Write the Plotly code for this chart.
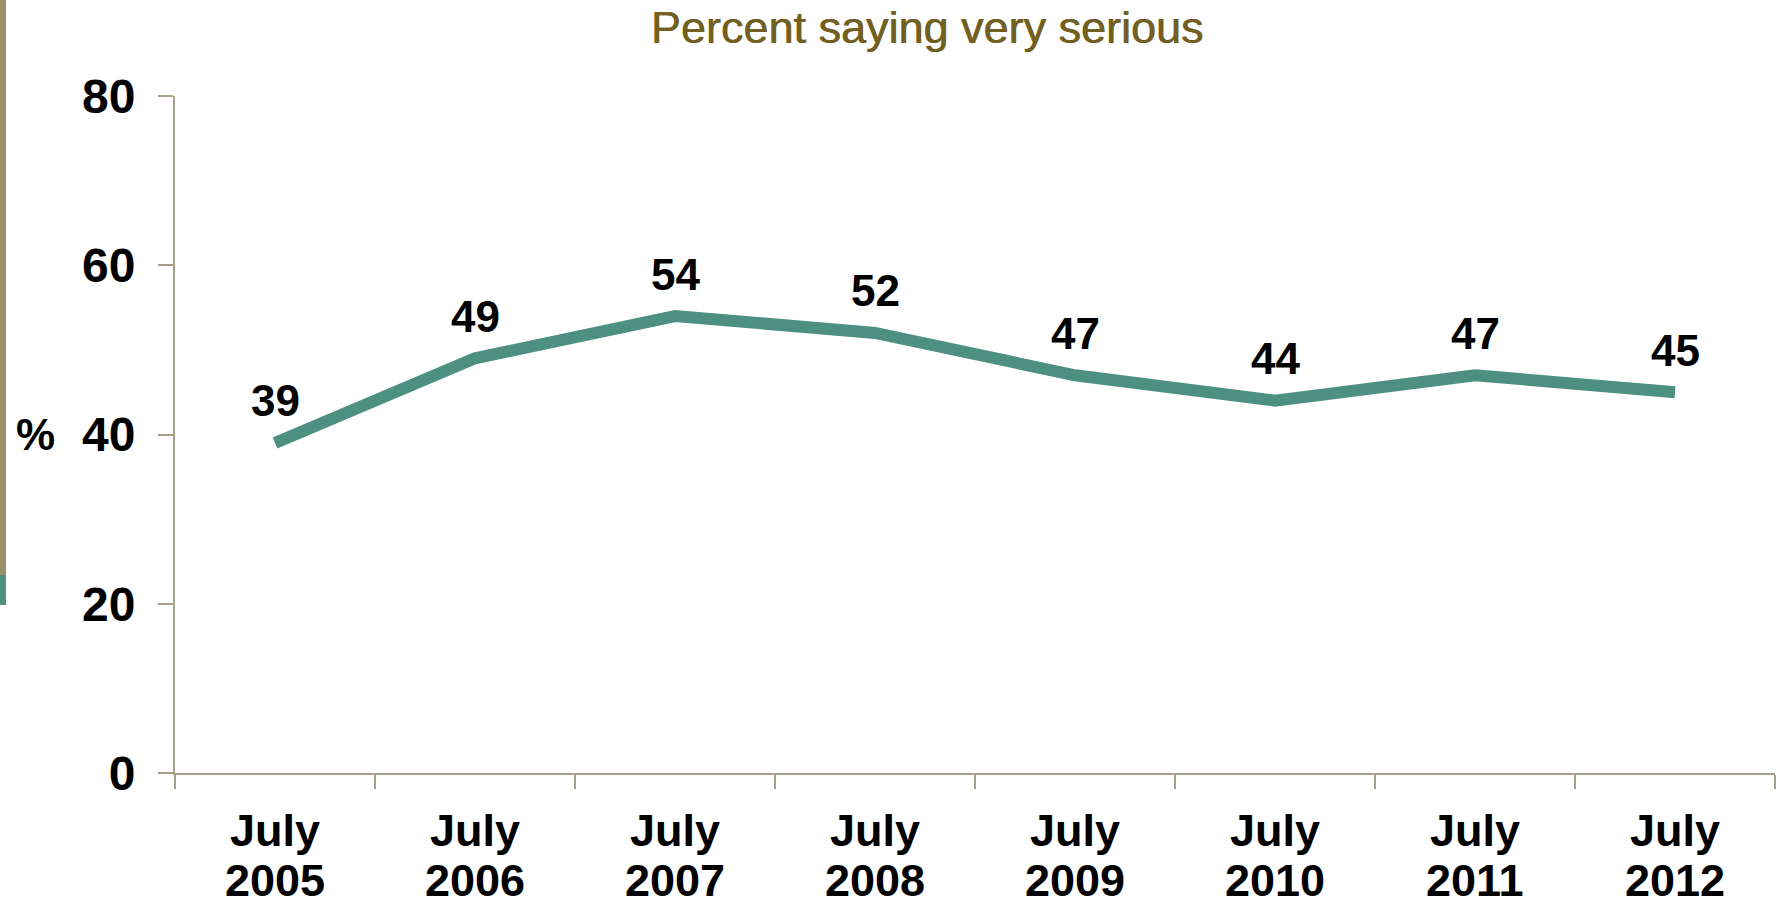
import plotly.graph_objects as go

months = ["July"] * 8
years = ["2005", "2006", "2007", "2008", "2009", "2010", "2011", "2012"]
values = [39, 49, 54, 52, 47, 44, 47, 45]
y_ticks = [0, 20, 40, 60, 80]

LINE = "#4E9080"
AXIS = "#A79F8C"
TITLE = "#725F22"
FONT = "Liberation Sans, Arial, sans-serif"

W, H = 1784, 904
L, R, T, B = 175, 9, 96, 131

fig = go.Figure()
fig.add_trace(go.Scatter(
    x=years, y=values, mode="lines",
    line=dict(color=LINE, width=12),
    hoverinfo="skip", showlegend=False,
))

# category index positions on the category axis
for i, v in enumerate(values):
    fig.add_annotation(x=i, y=v, text=str(v), showarrow=False,
                       yanchor="middle", yshift=42,
                       font=dict(family=FONT, size=44, color="black", weight="bold"))

# second line of each category label (year)
for i, c in enumerate(years):
    fig.add_annotation(x=i, xref="x", y=0, yref="paper", text=c, showarrow=False,
                       yanchor="middle", yshift=-107,
                       font=dict(family=FONT, size=45, color="black", weight="bold"))

fig.add_annotation(xref="paper", x=0, xanchor="right", xshift=-118,
                   yref="y", y=40, text="%", showarrow=False,
                   font=dict(family=FONT, size=44, color="black", weight="bold"))

ph = H - T - B
def py(p):
    return (H - B - p) / ph

fig.add_shape(type="rect", xref="paper", yref="paper",
              x0=-L / (W - L - R), x1=(6 - L) / (W - L - R),
              y0=py(575), y1=py(0), fillcolor="#9B8F66", line=dict(width=0), layer="above")
fig.add_shape(type="rect", xref="paper", yref="paper",
              x0=-L / (W - L - R), x1=(6 - L) / (W - L - R),
              y0=py(605), y1=py(575), fillcolor=LINE, line=dict(width=0), layer="above")

fig.update_layout(
    width=W, height=H,
    margin=dict(l=L, r=R, t=T, b=B, autoexpand=False),
    paper_bgcolor="white", plot_bgcolor="white",
    title=dict(text="Percent saying very serious", x=927 / W, xanchor="center",
               y=1 - 27 / H, yanchor="middle",
               font=dict(family=FONT, size=45, color=TITLE,
                         shadow="0.7px 0 0 #725F22")),
    xaxis=dict(type="category", range=[-0.5, 7.5], tickson="boundaries",
               tickvals=years, ticktext=months,
               ticks="outside", ticklen=14, tickwidth=2, tickcolor=AXIS,
               showline=True, linecolor=AXIS, linewidth=2, showgrid=False,
               zeroline=False, ticklabelstandoff=17, automargin=False,
               tickfont=dict(family=FONT, size=45, color="black", weight="bold")),
    yaxis=dict(range=[0, 80], tickvals=y_ticks, ticks="outside", ticklen=15,
               tickwidth=2, tickcolor=AXIS, showline=True, linecolor=AXIS,
               linewidth=2, showgrid=False, zeroline=False, ticklabelstandoff=13,
               automargin=False,
               tickfont=dict(family=FONT, size=48, color="black", weight="bold")),
)

fig.write_html("out.html", config={"displayModeBar": False},
               post_script="document.body.style.margin='0';document.body.style.overflow='hidden';")
